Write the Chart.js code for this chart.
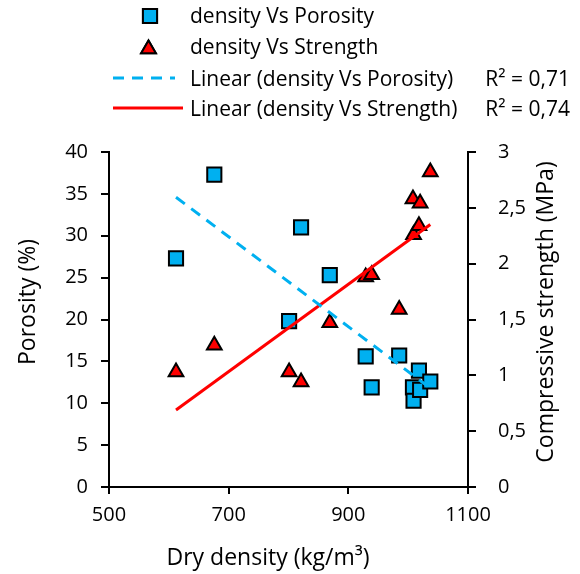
<!DOCTYPE html>
<html>
<head>
<meta charset="utf-8">
<script src="https://cdn.jsdelivr.net/npm/chart.js@4.4.1/dist/chart.umd.min.js"></script>
<style>
  html, body { margin: 0; padding: 0; background: #fff; }
  #wrap { width: 580px; height: 574px; }
</style>
</head>
<body>
<div id="wrap"><canvas id="chart" width="580" height="574"></canvas></div>
<script>
// ---- data ----
const density  = [612, 676, 801, 821, 869, 929, 939, 985, 1008, 1009, 1018, 1020, 1037]
const porosity = [27.3, 37.3, 19.8, 31.0, 25.3, 15.6, 11.9, 15.7, 11.9, 10.3, 13.9, 11.6, 12.6]
const strength = [1.03, 1.27, 1.03, 0.94, 1.47, 1.88, 1.90, 1.59, 2.58, 2.26, 2.34, 2.54, 2.82]

// trendline end points
const trendDensity  = [612, 1037]
const porosityTrend = [34.6, 11.8]
const strengthTrend = [0.69, 2.35]

const legendLabels = ['density Vs Porosity', 'density Vs Strength',
  'Linear (density Vs Porosity)', 'Linear (density Vs Strength)']
const r2Labels = ['R² = 0,71', 'R² = 0,74']

const xTitle  = 'Dry density (kg/m³)'
const y1Title = 'Porosity (%)'
const y2Title = 'Compressive strength (MPa)'

// ---- styles ----
const FONT = "'Open Sans', sans-serif"
const BLUE = '#00B0F0'
const RED  = '#FF0000'

const pts = (xs, ys) => xs.map((x, i) => ({ x, y: ys[i] }))
const comma = v => String(v).replace('.', ',')

// titles + legend drawn on top
const decorPlugin = {
  id: 'decor',
  afterDraw(chart) {
    const ctx = chart.ctx
    ctx.save()
    ctx.fillStyle = '#000'
    ctx.textBaseline = 'alphabetic'

    // axis titles
    ctx.font = `23px ${FONT}`
    ctx.textAlign = 'center'
    ctx.fillText(xTitle, 268, 565)

    ctx.save()
    ctx.translate(35, 302)
    ctx.rotate(-Math.PI / 2)
    ctx.fillText(y1Title, 0, 0)
    ctx.restore()

    ctx.save()
    ctx.translate(553, 312)
    ctx.rotate(-Math.PI / 2)
    ctx.fillText(y2Title, 0, 0)
    ctx.restore()

    // legend
    const ds = chart.data.datasets
    const sq = ds.find(d => d.id === 'por')
    const tri = ds.find(d => d.id === 'str')
    const draw = Chart.helpers.drawPoint

    ctx.lineWidth = sq.pointBorderWidth
    ctx.strokeStyle = '#000'
    ctx.fillStyle = sq.pointBackgroundColor
    draw(ctx, { pointStyle: 'rect', radius: 10, rotation: 0, borderWidth: 2 }, 150, 16)
    ctx.fill(); ctx.stroke()
    ctx.fillStyle = tri.pointBackgroundColor
    draw(ctx, { pointStyle: 'triangle', radius: 8.5, rotation: 0, borderWidth: 2 }, 148.5, 49)
    ctx.fill(); ctx.stroke()

    ctx.lineWidth = 3
    ctx.strokeStyle = BLUE
    ctx.setLineDash([11, 8])
    ctx.beginPath(); ctx.moveTo(113, 78); ctx.lineTo(175, 78); ctx.stroke()
    ctx.setLineDash([])
    ctx.strokeStyle = RED
    ctx.beginPath(); ctx.moveTo(113, 108); ctx.lineTo(183, 108); ctx.stroke()

    ctx.fillStyle = '#000'
    ctx.font = `21px ${FONT}`
    ctx.textAlign = 'left'
    const baselines = [23, 54, 86, 116]
    legendLabels.forEach((t, i) => ctx.fillText(t, 190, baselines[i]))
    ctx.textAlign = 'right'
    ctx.fillText(r2Labels[0], 570, baselines[2])
    ctx.fillText(r2Labels[1], 570, baselines[3])
    ctx.restore()
  }
}

const axisTicks = { color: '#000', font: { family: FONT, size: 20 } }
const axisGrid = len => ({ drawOnChartArea: false, color: '#000', lineWidth: 2, tickLength: len })
const axisBorder = { color: '#000', width: 2 }

new Chart(document.getElementById('chart'), {
  type: 'scatter',
  data: {
    datasets: [
      {
        id: 'porTrend', type: 'line', data: pts(trendDensity, porosityTrend), yAxisID: 'y',
        borderColor: BLUE, borderWidth: 3, borderDash: [11, 8], pointRadius: 0, fill: false, order: 0
      },
      {
        id: 'strTrend', type: 'line', data: pts(trendDensity, strengthTrend), yAxisID: 'y2',
        borderColor: RED, borderWidth: 3, pointRadius: 0, fill: false, order: 0
      },
      {
        id: 'str', data: pts(density, strength), yAxisID: 'y2',
        pointStyle: 'triangle', pointRadius: 8.5, pointBackgroundColor: RED,
        pointBorderColor: '#000', pointBorderWidth: 2, order: 1
      },
      {
        id: 'por', data: pts(density, porosity), yAxisID: 'y',
        pointStyle: 'rect', pointRadius: 10, pointBackgroundColor: BLUE,
        pointBorderColor: '#000', pointBorderWidth: 2, order: 2
      }
    ]
  },
  options: {
    responsive: false,
    animation: false,
    devicePixelRatio: 1,
    layout: { padding: { top: 152, left: 0, right: 0, bottom: 0 } },
    plugins: { legend: { display: false }, tooltip: { enabled: false } },
    scales: {
      x: {
        type: 'linear', min: 500, max: 1100,
        ticks: { ...axisTicks, stepSize: 200, padding: 9, callback: v => String(v) },
        grid: axisGrid(7), border: axisBorder,
        afterFit(s) { s.height = 87 }
      },
      y: {
        position: 'left', min: 0, max: 40,
        ticks: { ...axisTicks, stepSize: 5, padding: 13 },
        grid: axisGrid(8), border: axisBorder,
        afterFit(s) { s.width = 109 }
      },
      y2: {
        position: 'right', min: 0, max: 3,
        ticks: { ...axisTicks, stepSize: 0.5, padding: 22, callback: v => comma(v) },
        grid: axisGrid(8), border: axisBorder,
        afterFit(s) { s.width = 112 }
      }
    }
  },
  plugins: [decorPlugin]
})
</script>
</body>
</html>
